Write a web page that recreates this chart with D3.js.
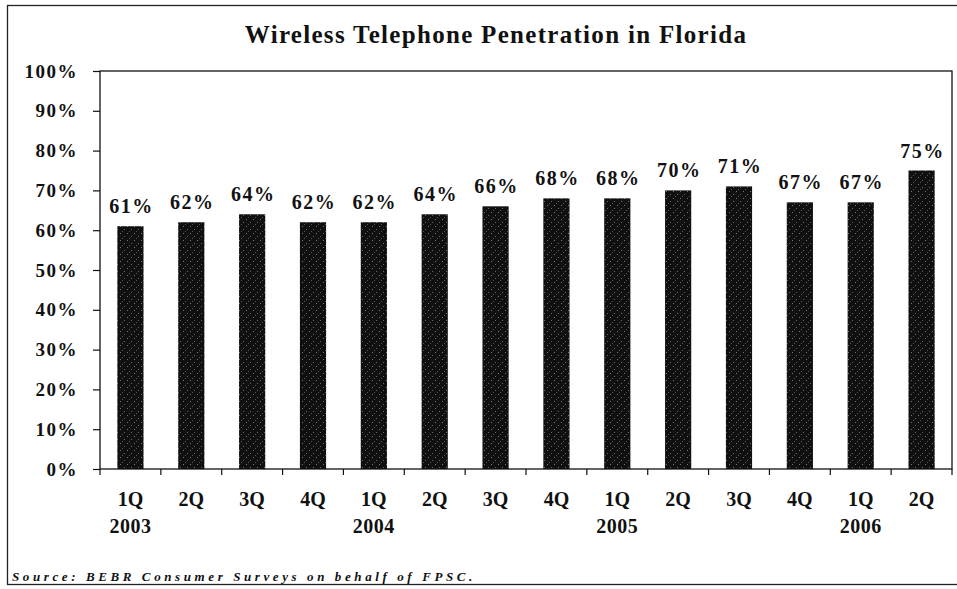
<!DOCTYPE html>
<html>
<head>
<meta charset="utf-8">
<script src="https://cdn.jsdelivr.net/npm/d3@7"></script>
<style>
  body { margin: 0; background: #fff; }
  svg text { font-family: "Liberation Serif", "DejaVu Serif", serif; font-weight: bold; fill: #111; }
</style>
</head>
<body>
<svg id="chart" width="957" height="589"></svg>
<script>
// data
var quarters = ["1Q","2Q","3Q","4Q","1Q","2Q","3Q","4Q","1Q","2Q","3Q","4Q","1Q","2Q"];
var years    = ["2003","","","","2004","","","","2005","","","","2006",""];
var values   = [61,62,64,62,62,64,66,68,68,70,71,67,67,75];
var yTicks   = [0,10,20,30,40,50,60,70,80,90,100];

var svg = d3.select("#chart");
var margin = {left:100, top:71, right:952, bottom:469};

// outer frame (right side runs off the page)
svg.append("rect")
  .attr("x", 7.5).attr("y", 5.5)
  .attr("width", 960).attr("height", 579)
  .attr("fill", "none").attr("stroke", "#222").attr("stroke-width", 1.3)

svg.append("text")
  .attr("x", 496).attr("y", 43)
  .attr("text-anchor", "middle")
  .style("font-size", "25px").style("letter-spacing", "1.3px")
  .text("Wireless Telephone Penetration in Florida")

var idx = d3.range(values.length)
var x = d3.scaleBand().domain(idx).range([margin.left, margin.right]).paddingInner(0.57).paddingOuter(0.285)
var y = d3.scaleLinear().domain([0,100]).range([margin.bottom, margin.top])

// plot box
svg.append("rect")
  .attr("x", margin.left).attr("y", margin.top)
  .attr("width", margin.right-margin.left).attr("height", margin.bottom-margin.top)
  .attr("fill", "none").attr("stroke", "#111").attr("stroke-width", 1.3)

// stipple pattern for the bars
var defs = svg.append("defs")
var pat = defs.append("pattern").attr("id","stip").attr("patternUnits","userSpaceOnUse")
  .attr("width", 7).attr("height", 7)
pat.append("rect").attr("width",7).attr("height",7).attr("fill","#101010")
pat.append("rect").attr("x",1).attr("y",2).attr("width",1).attr("height",1).attr("fill","#777")
pat.append("rect").attr("x",5).attr("y",5).attr("width",1).attr("height",1).attr("fill","#666")
pat.append("rect").attr("x",3).attr("y",0).attr("width",1).attr("height",1).attr("fill","#555")

svg.selectAll("rect.bar")
  .data(values)
  .enter().append("rect")
  .attr("class","bar")
  .attr("x", function(d,i){ return x(i) })
  .attr("y", function(d){ return y(d) })
  .attr("width", x.bandwidth())
  .attr("height", function(d){ return y(0)-y(d) })
  .attr("fill", "url(#stip)")

// value labels
svg.selectAll("text.val")
  .data(values)
  .enter().append("text")
  .attr("class","val")
  .attr("x", function(d,i){ return x(i)+x.bandwidth()/2 + 1 })
  .attr("y", function(d){ return y(d)-13 })
  .attr("text-anchor","middle")
  .style("font-size","20px").style("letter-spacing","1.5px")
  .text(function(d){ return d+"%" })

// y axis
var yAxis = d3.axisLeft(y).tickValues(yTicks).tickSize(7).tickPadding(15)
  .tickFormat(function(d){ return d+"%" })
var gy = svg.append("g").attr("transform","translate("+margin.left+",0)").call(yAxis)
gy.select(".domain").remove()
gy.selectAll("line").attr("stroke","#111").attr("stroke-width",1.2)
gy.selectAll("text").style("font-size","19px").style("letter-spacing","1.5px")
  .style("font-family","Liberation Serif, serif").style("font-weight","bold").attr("fill","#111")

// x axis ticks between categories
var xt = d3.range(values.length+1)
svg.selectAll("line.xt")
  .data(xt)
  .enter().append("line")
  .attr("class","xt")
  .attr("x1", function(d){ return margin.left + d*(margin.right-margin.left)/values.length })
  .attr("x2", function(d){ return margin.left + d*(margin.right-margin.left)/values.length })
  .attr("y1", margin.bottom).attr("y2", margin.bottom+6)
  .attr("stroke","#111").attr("stroke-width",1.2)

svg.selectAll("text.q")
  .data(quarters)
  .enter().append("text")
  .attr("class","q")
  .attr("x", function(d,i){ return x(i)+x.bandwidth()/2 })
  .attr("y", 506)
  .attr("text-anchor","middle")
  .style("font-size","20px")
  .text(function(d){ return d })

svg.selectAll("text.yr")
  .data(years)
  .enter().append("text")
  .attr("class","yr")
  .attr("x", function(d,i){ return x(i)+x.bandwidth()/2 })
  .attr("y", 533)
  .attr("text-anchor","middle")
  .style("font-size","20px").style("letter-spacing","0.5px")
  .text(function(d){ return d })

svg.append("text")
  .attr("x", 12).attr("y", 581)
  .style("font-size","13px").style("font-style","italic").style("letter-spacing","3.6px")
  .text("Source: BEBR Consumer Surveys on behalf of FPSC.")
</script>
</body>
</html>
